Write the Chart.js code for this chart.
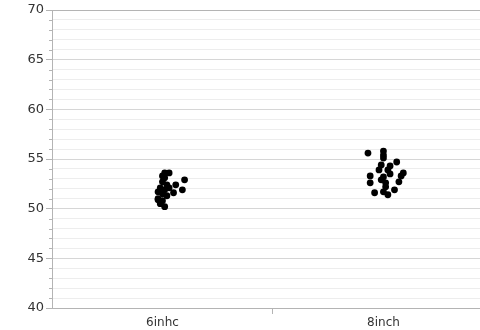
<!DOCTYPE html>
<html>
<head>
<meta charset="utf-8">
<script src="https://cdn.jsdelivr.net/npm/chart.js@4"></script>
<style>
  html, body { margin: 0; padding: 0; background: #fff; }
  #wrap { width: 480px; height: 330px; }
</style>
</head>
<body>
<div id="wrap"><canvas id="chart-canvas"></canvas></div>
<script>
const categories = ['6inhc', '8inch'];

// horizontal jitter (in category units) and values
const jitter6 = [0.01, 0.03, 0.01, 0.0, 0.02, -0.01, 0.01, -0.02, 0.0, 0.02, -0.02, 0.0, -0.01, 0.01, 0.06, 0.10, 0.09, 0.05, 0.03, 0.0, -0.02];
const values6 = [53.6, 53.6, 53.1, 52.7, 52.4, 52.1, 51.9, 51.7, 51.5, 51.3, 51.0, 50.8, 50.5, 50.2, 52.4, 52.9, 51.9, 51.6, 52.1, 53.3, 50.9];

const jitter8 = [-0.07, 0.0, 0.0, 0.0, 0.06, -0.01, 0.03, -0.02, 0.02, 0.09, -0.06, 0.03, 0.0, 0.07, -0.06, 0.01, 0.05, -0.04, 0.0, 0.02, 0.08, 0.01, -0.01];
const values8 = [55.6, 55.8, 55.4, 55.1, 54.7, 54.4, 54.3, 53.9, 53.9, 53.6, 53.3, 53.5, 53.2, 52.7, 52.6, 52.6, 51.9, 51.6, 51.7, 51.4, 53.3, 52.2, 52.9];

const yTicks = [40, 45, 50, 55, 60, 65, 70];

const toPoints = (pos, jit, vals) => vals.map((v, i) => ({ x: pos + jit[i], y: v }));

// short minor tick marks on the y axis
const minorTicks = {
  id: 'minorTicks',
  afterDraw(chart) {
    const y = chart.scales.y;
    const c = chart.ctx;
    c.save();
    c.strokeStyle = '#b4b4b4';
    c.lineWidth = 1;
    for (let v = 40; v <= 70; v++) {
      if (v % 5 === 0) continue;
      const py = Math.round(y.getPixelForValue(v)) + 0.5;
      c.beginPath();
      c.moveTo(y.right - 3, py);
      c.lineTo(y.right, py);
      c.stroke();
    }
    c.restore();
  }
};

const ctx = document.getElementById('chart-canvas');

let myChart = new Chart(ctx, {
  type: 'scatter',
  data: {
    datasets: [
      { data: toPoints(1, jitter6, values6) },
      { data: toPoints(2, jitter8, values8) }
    ]
  },
  options: {
    responsive: true,
    maintainAspectRatio: false,
    animation: false,
    layout: { autoPadding: false, padding: { top: 10, right: 0, left: 0, bottom: 0 } },
    elements: {
      point: { radius: 3.4, backgroundColor: '#000', borderColor: '#000', borderWidth: 0 }
    },
    scales: {
      x: {
        type: 'linear',
        min: 0.5,
        max: 2.437,
        afterBuildTicks: s => { s.ticks = [{ value: 1 }, { value: 1.5 }, { value: 2 }]; },
        afterFit: s => { s.height = 22; },
        ticks: {
          autoSkip: false,
          maxRotation: 0,
          padding: 2,
          color: '#333',
          font: { family: 'DejaVu Sans', size: 12 },
          callback: v => v === 1 ? categories[0] : v === 2 ? categories[1] : ''
        },
        grid: {
          drawOnChartArea: false,
          tickLength: 6,
          tickColor: c => c.tick && c.tick.value === 1.5 ? '#b4b4b4' : 'rgba(0,0,0,0)'
        },
        border: { color: '#b4b4b4' }
      },
      y: {
        min: 40,
        max: 70,
        afterBuildTicks: s => { s.ticks = []; for (let v = 40; v <= 70; v++) s.ticks.push({ value: v }); },
        afterFit: s => { s.width = 52; },
        ticks: {
          autoSkip: false,
          padding: 2,
          color: '#333',
          font: { family: 'DejaVu Sans', size: 13 },
          callback: v => yTicks.includes(v) ? String(v) : ''
        },
        grid: {
          tickLength: 6,
          color: c => c.tick.value === 70 ? '#b4b4b4' : c.tick.value % 5 === 0 ? '#d6d6d6' : '#ededed',
          tickColor: c => c.tick.value % 5 === 0 ? '#b4b4b4' : 'rgba(0,0,0,0)'
        },
        border: { color: '#b4b4b4' }
      }
    },
    plugins: {
      legend: { display: false },
      tooltip: { enabled: false }
    }
  },
  plugins: [minorTicks]
});
</script>
</body>
</html>
